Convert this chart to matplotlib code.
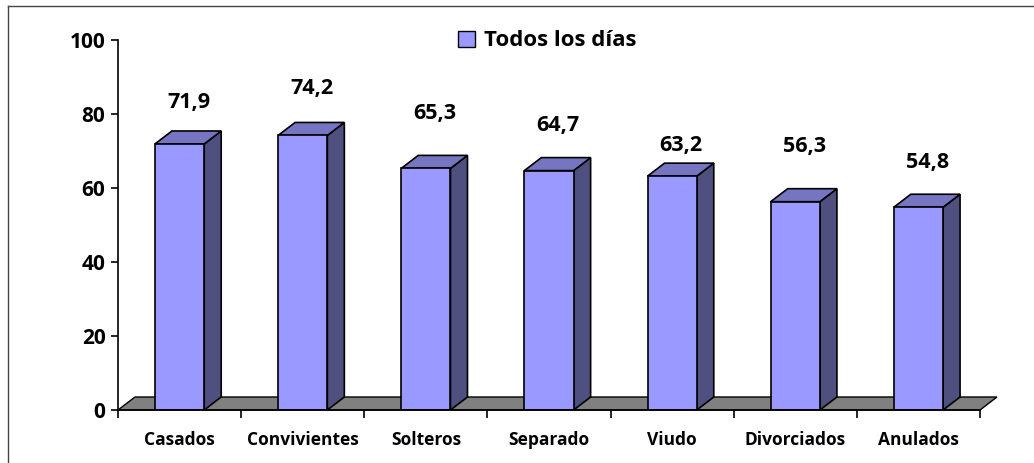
import matplotlib
matplotlib.use("Agg")
import matplotlib.pyplot as plt
from matplotlib.patches import Polygon, Rectangle

# ── data ──────────────────────────────────────────────────────────────────────
categories = ["Casados", "Convivientes", "Solteros", "Separado",
              "Viudo", "Divorciados", "Anulados"]
values = [71.9, 74.2, 65.3, 64.7, 63.2, 56.3, 54.8]
value_labels = ["71,9", "74,2", "65,3", "64,7", "63,2", "56,3", "54,8"]
series_name = "Todos los días"
y_ticks = [0, 20, 40, 60, 80, 100]

# ── styling ───────────────────────────────────────────────────────────────────
C_FRONT = "#9999FF"
C_SIDE = "#4F4F80"
C_TOP = "#7575C2"
C_FLOOR = "#808080"
FONT = "Open Sans"
# label distance above the bar top, in pixels (labels sit unevenly in the original)
label_lift_px = [41, 47, 55, 45, 31, 55, 45]

W, H, DPI = 1034, 463, 100
fig = plt.figure(figsize=(W / DPI, H / DPI), dpi=DPI)

# axes placed in pixel terms of the reference
x0, x1 = 118, 980
y0, y1 = 410, 40
ax = fig.add_axes([x0 / W, (H - y0) / H, (x1 - x0) / W, (y0 - y1) / H])
n = len(categories)
ax.set_xlim(-0.5, n - 0.5)
ax.set_ylim(0, 100)

# depth offset (17 px right, 13 px up) in data units
px_x = n / (x1 - x0)
px_y = 100 / (y0 - y1)
dx, dy = 17 * px_x, 13 * px_y
bw = 0.40

# floor
floor = Polygon([(-0.5, 0), (n - 0.5, 0), (n - 0.5 + dx, dy), (-0.5 + dx, dy)],
                closed=True, fc=C_FLOOR, ec="black", lw=1.0, clip_on=False, zorder=1)
ax.add_patch(floor)

for i, v in enumerate(values):
    xl, xr = i - bw / 2, i + bw / 2
    side = Polygon([(xr, 0), (xr + dx, dy), (xr + dx, v + dy), (xr, v)],
                   closed=True, fc=C_SIDE, ec="black", lw=1.2, clip_on=False, zorder=2)
    top = Polygon([(xl, v), (xr, v), (xr + dx, v + dy), (xl + dx, v + dy)],
                  closed=True, fc=C_TOP, ec="black", lw=1.2, clip_on=False, zorder=2)
    ax.add_patch(side)
    ax.add_patch(top)
    ax.bar(i, v, width=bw, color=C_FRONT, edgecolor="black", lw=1.2, zorder=3)
    ax.text(i + 9 * px_x, v + label_lift_px[i] * px_y, value_labels[i],
            ha="center", va="center", fontsize=15.5, fontweight="bold", family=FONT)

# axes cosmetics
for s in ["top", "right"]:
    ax.spines[s].set_visible(False)
ax.spines["left"].set_linewidth(1.2)
ax.spines["bottom"].set_linewidth(1.2)
ax.spines["bottom"].set_zorder(4)
ax.set_yticks(y_ticks)
ax.set_yticklabels([str(t) for t in y_ticks], fontsize=15, fontweight="bold", family=FONT)
ax.set_xticks([i + 0.5 for i in range(-1, n)])
ax.set_xticklabels([])
ax.set_xticks(range(n), minor=True)
ax.set_xticklabels(categories, minor=True, fontsize=12.5, fontweight="bold", family=FONT)
ax.tick_params(axis="x", which="minor", length=0, pad=15)
ax.tick_params(axis="x", which="major", length=6, width=1.2, direction="out")
ax.tick_params(axis="y", length=5, width=1.2, pad=4)

# legend
leg = ax.legend([Rectangle((0, 0), 1, 1, fc=C_FRONT, ec="black", lw=1.0)], [series_name],
                loc="center", bbox_to_anchor=(547 / W, (H - 41) / H),
                bbox_transform=fig.transFigure, frameon=False,
                prop={"family": FONT, "weight": "bold", "size": 16},
                handlelength=0.75, handleheight=0.75, handletextpad=0.4)

# outer frame (top and left edges visible in reference)
fig.add_artist(plt.Line2D([8 / W, 1], [1 - 6 / H, 1 - 6 / H], transform=fig.transFigure,
                          color="#444444", lw=1.0))
fig.add_artist(plt.Line2D([8 / W, 8 / W], [0, 1 - 6 / H], transform=fig.transFigure,
                          color="#444444", lw=1.0))

fig.savefig("out.png", dpi=DPI)
